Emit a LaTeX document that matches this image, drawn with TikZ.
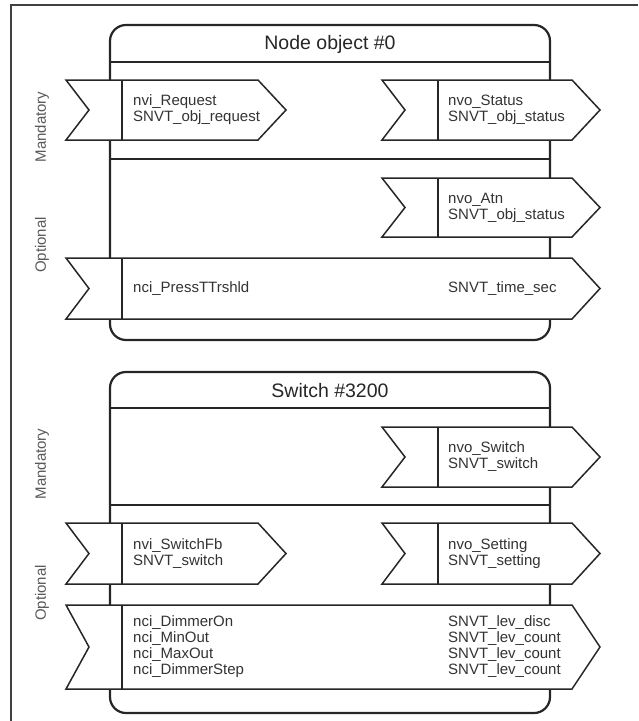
\documentclass[tikz,border=0pt]{standalone}
\usepackage{fontspec}
\setmainfont{Liberation Sans}

\begin{document}
\begin{tikzpicture}[x=1pt,y=-1pt,
    blockline/.style={line width=2.2pt,draw=black!85},
    nvline/.style={line width=1.5pt,draw=black!85,fill=white,line join=miter},
    nvtext/.style={anchor=west,align=left,inner sep=0pt,text=black!80,
      font=\fontsize{15}{16}\selectfont},
    sidetext/.style={rotate=90,inner sep=0pt,text=black!65,
      font=\fontsize{15}{16}\selectfont},
    titletext/.style={inner sep=0pt,text=black!85,
      font=\fontsize{19.5}{20}\selectfont}]
  \useasboundingbox (0,0) rectangle (638,721);

  % outer frame
  \draw[line width=1.2pt,black!75] (11,721) -- (11,5) -- (638,5);

  % the two objects: top / title line / separator / bottom
  \foreach \ytop/\yhead/\ysep/\ybot in {25/62/159/340, 372/408/505/713} {
    \draw[blockline,rounded corners=16pt] (110,\ytop) rectangle (550,\ybot);
    \draw[blockline] (110,\yhead) -- (550,\yhead);
    \draw[blockline] (110,\ysep) -- (550,\ysep);
  }

  % network variables: back x / tip x / top y / bottom y
  \foreach \xa/\xb/\ya/\yb in {
      66/286/80/140, 382/600/80/140,
      382/600/178/237,
      66/600/258/319,
      382/600/427/487,
      66/286/523/584, 382/600/523/584,
      66/600/605/689
    } {
    \draw[nvline] (\xa,\ya) -- (\xb-28,\ya) -- (\xb,{(\ya+\yb)/2})
      -- (\xb-28,\yb) -- (\xa,\yb) -- (\xa+23,{(\ya+\yb)/2}) -- cycle;
    \draw[nvline] (\xa+56,\ya) -- (\xa+56,\yb);
  }

  % titles
  \node[titletext] (nodeTitle) at (330,44) {Node object \#0};
  \node[titletext] (switchTitle) at (330,391) {Switch \#3200};

  % mandatory / optional labels
  \node[sidetext] (nodeMand) at (42,127) {Mandatory};
  \node[sidetext] (nodeOpt) at (42,245) {Optional};
  \node[sidetext] (switchMand) at (42,464) {Mandatory};
  \node[sidetext] (switchOpt) at (42,593) {Optional};

  % node object #0
  \node[nvtext] (nviRequest) at (133,110) {nvi\_Request\\SNVT\_obj\_request};
  \node[nvtext] (nvoStatus) at (448,110) {nvo\_Status\\SNVT\_obj\_status};
  \node[nvtext] (nvoAtn) at (448,207.5) {nvo\_Atn\\SNVT\_obj\_status};
  \node[nvtext] (nciPress) at (133,289) {nci\_PressTTrshld};
  \node[nvtext] (nciPressType) at (448,289) {SNVT\_time\_sec};

  % switch #3200
  \node[nvtext] (nvoSwitch) at (448,457) {nvo\_Switch\\SNVT\_switch};
  \node[nvtext] (nviSwitchFb) at (133,553.5) {nvi\_SwitchFb\\SNVT\_switch};
  \node[nvtext] (nvoSetting) at (448,553.5) {nvo\_Setting\\SNVT\_setting};
  \node[nvtext] (nciNames) at (133,647)
    {nci\_DimmerOn\\nci\_MinOut\\nci\_MaxOut\\nci\_DimmerStep};
  \node[nvtext] (nciTypes) at (448,647)
    {SNVT\_lev\_disc\\SNVT\_lev\_count\\SNVT\_lev\_count\\SNVT\_lev\_count};
\end{tikzpicture}
\end{document}
